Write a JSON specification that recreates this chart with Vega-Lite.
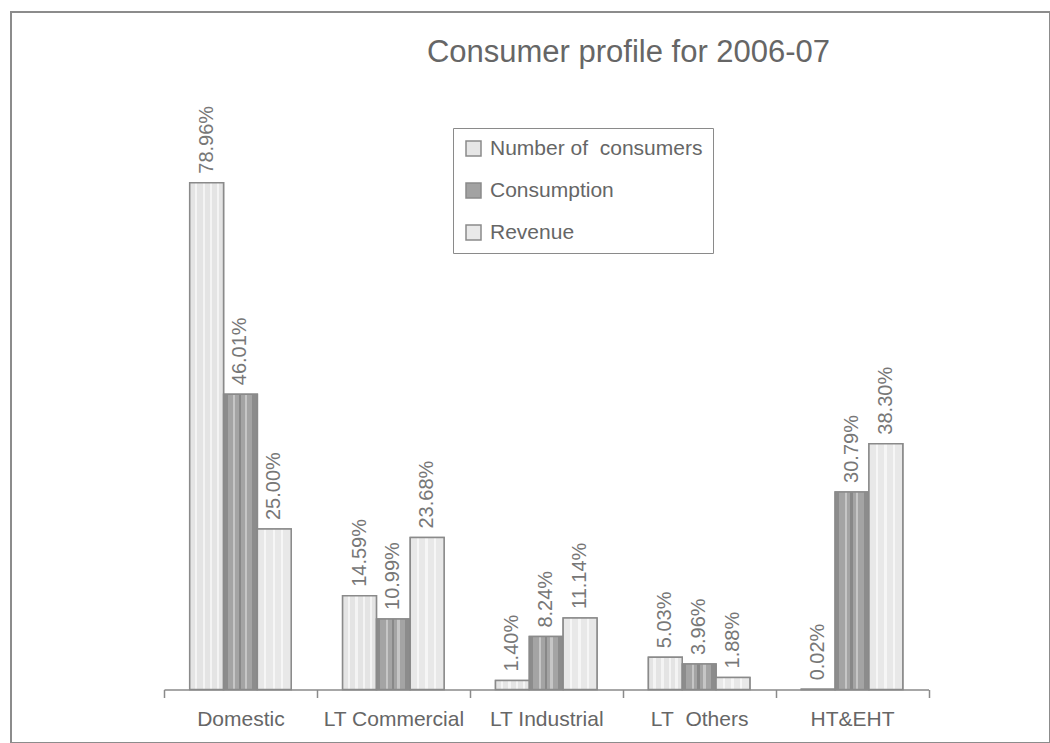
{
  "$schema": "https://vega.github.io/schema/vega-lite/v6.json",
  "width": 1039,
  "height": 731,
  "autosize": {"type": "none"},
  "padding": {"left": 11, "top": 12, "right": 0, "bottom": 0},
  "background": "white",
  "config": {
    "view": {"stroke": "#8c8c8c", "strokeWidth": 2},
    "font": "Liberation Sans",
    "axis": {"grid": false}
  },
  "title": {
    "text": "Consumer profile for 2006-07",
    "fontSize": 31,
    "font": "Liberation Sans",
    "fontWeight": "normal",
    "color": "#666666",
    "anchor": "middle",
    "frame": "group",
    "baseline": "alphabetic",
    "offset": 0,
    "dx": 98,
    "dy": 81
  },
  "data": {
    "values": [
      {"cat": "Domestic", "series": "Number of\u00a0 consumers", "v": 0.7896},
      {"cat": "Domestic", "series": "Consumption", "v": 0.4601},
      {"cat": "Domestic", "series": "Revenue", "v": 0.25},
      {"cat": "LT Commercial", "series": "Number of\u00a0 consumers", "v": 0.1459},
      {"cat": "LT Commercial", "series": "Consumption", "v": 0.1099},
      {"cat": "LT Commercial", "series": "Revenue", "v": 0.2368},
      {"cat": "LT Industrial", "series": "Number of\u00a0 consumers", "v": 0.014},
      {"cat": "LT Industrial", "series": "Consumption", "v": 0.0824},
      {"cat": "LT Industrial", "series": "Revenue", "v": 0.1114},
      {"cat": "LT\u00a0 Others", "series": "Number of\u00a0 consumers", "v": 0.0503},
      {"cat": "LT\u00a0 Others", "series": "Consumption", "v": 0.0396},
      {"cat": "LT\u00a0 Others", "series": "Revenue", "v": 0.0188},
      {"cat": "HT&EHT", "series": "Number of\u00a0 consumers", "v": 0.0002},
      {"cat": "HT&EHT", "series": "Consumption", "v": 0.3079},
      {"cat": "HT&EHT", "series": "Revenue", "v": 0.383}
    ]
  },
  "encoding": {
    "x": {
      "field": "cat",
      "type": "nominal",
      "sort": ["Domestic", "LT Commercial", "LT Industrial", "LT\u00a0 Others", "HT&EHT"],
      "scale": {"range": [153, 917.5], "paddingInner": 0, "paddingOuter": 0},
      "axis": {
        "title": null,
        "labelAngle": 0,
        "labelFontSize": 21,
        "labelColor": "#666666",
        "labelFont": "Liberation Sans",
        "domainColor": "#8a8a8a",
        "domainWidth": 1.5,
        "tickColor": "#8a8a8a",
        "tickWidth": 1.5,
        "tickSize": 8,
        "tickBand": "extent",
        "labelPadding": 11,
        "labelBaseline": "top",
        "offset": -53.5
      }
    },
    "xOffset": {
      "field": "series",
      "sort": ["Number of\u00a0 consumers", "Consumption", "Revenue"],
      "scale": {"paddingInner": 0, "paddingOuter": 0.76}
    },
    "y": {
      "field": "v",
      "type": "quantitative",
      "scale": {"domain": [0, 0.7896], "range": [677.5, 170.7], "nice": false},
      "axis": null
    }
  },
  "layer": [
    {
      "mark": {"type": "bar", "stroke": "#8a8a8a", "strokeWidth": 1.5},
      "encoding": {
        "color": {
          "field": "series",
          "type": "nominal",
          "scale": {
            "domain": ["Number of\u00a0 consumers", "Consumption", "Revenue"],
            "range": ["#e6e6e6", "#a2a2a2", "#e9e9e9"]
          },
          "legend": {
            "orient": "none",
            "legendX": 442,
            "legendY": 116,
            "title": null,
            "symbolType": "square",
            "symbolSize": 225,
            "symbolStrokeColor": "#8a8a8a",
            "symbolStrokeWidth": 1.5,
            "symbolOpacity": 1,
            "labelFontSize": 21,
            "labelFont": "Liberation Sans",
            "labelColor": "#666666",
            "labelOffset": 6,
            "labelLimit": 400,
            "strokeColor": "#8a8a8a",
            "padding": 10,
            "rowPadding": 20
          }
        }
      }
    },
    {
      "transform": [{"filter": "datum.series === 'Number of\u00a0 consumers'"}],
      "mark": {"type": "bar", "stroke": "#8a8a8a", "strokeWidth": 1.5,
        "fill": {"gradient": "linear", "x1": 0, "y1": 0, "x2": 1, "y2": 0, "stops": [
          {"offset": 0, "color": "#e4e4e4"}, {"offset": 0.15, "color": "#e4e4e4"},
          {"offset": 0.15, "color": "#f4f4f4"}, {"offset": 0.22, "color": "#f4f4f4"},
          {"offset": 0.22, "color": "#e4e4e4"}, {"offset": 0.38, "color": "#e4e4e4"},
          {"offset": 0.38, "color": "#f4f4f4"}, {"offset": 0.45, "color": "#f4f4f4"},
          {"offset": 0.45, "color": "#e4e4e4"}, {"offset": 0.6, "color": "#e4e4e4"},
          {"offset": 0.6, "color": "#f4f4f4"}, {"offset": 0.67, "color": "#f4f4f4"},
          {"offset": 0.67, "color": "#e4e4e4"}, {"offset": 0.8, "color": "#e4e4e4"},
          {"offset": 0.8, "color": "#f4f4f4"}, {"offset": 0.87, "color": "#f4f4f4"},
          {"offset": 0.87, "color": "#e4e4e4"}, {"offset": 1, "color": "#e4e4e4"}
        ]}},
      "encoding": {}
    },
    {
      "transform": [{"filter": "datum.series === 'Consumption'"}],
      "mark": {"type": "bar", "stroke": "#8a8a8a", "strokeWidth": 1.5,
        "fill": {"gradient": "linear", "x1": 0, "y1": 0, "x2": 1, "y2": 0, "stops": [
          {"offset": 0, "color": "#8c8c8c"}, {"offset": 0.12, "color": "#8c8c8c"},
          {"offset": 0.12, "color": "#a4a4a4"}, {"offset": 0.28, "color": "#a4a4a4"},
          {"offset": 0.28, "color": "#c6c6c6"}, {"offset": 0.35, "color": "#c6c6c6"},
          {"offset": 0.35, "color": "#a4a4a4"}, {"offset": 0.45, "color": "#a4a4a4"},
          {"offset": 0.45, "color": "#888888"}, {"offset": 0.53, "color": "#888888"},
          {"offset": 0.53, "color": "#a4a4a4"}, {"offset": 0.62, "color": "#a4a4a4"},
          {"offset": 0.62, "color": "#c6c6c6"}, {"offset": 0.69, "color": "#c6c6c6"},
          {"offset": 0.69, "color": "#a4a4a4"}, {"offset": 0.84, "color": "#a4a4a4"},
          {"offset": 0.84, "color": "#8c8c8c"}, {"offset": 1, "color": "#8c8c8c"}
        ]}},
      "encoding": {}
    },
    {
      "transform": [{"filter": "datum.series === 'Revenue'"}],
      "mark": {"type": "bar", "stroke": "#8a8a8a", "strokeWidth": 1.5,
        "fill": {"gradient": "linear", "x1": 0, "y1": 0, "x2": 1, "y2": 0, "stops": [
          {"offset": 0, "color": "#e8e8e8"}, {"offset": 0.2, "color": "#e8e8e8"},
          {"offset": 0.2, "color": "#f6f6f6"}, {"offset": 0.27, "color": "#f6f6f6"},
          {"offset": 0.27, "color": "#e8e8e8"}, {"offset": 0.45, "color": "#e8e8e8"},
          {"offset": 0.45, "color": "#f6f6f6"}, {"offset": 0.52, "color": "#f6f6f6"},
          {"offset": 0.52, "color": "#e8e8e8"}, {"offset": 0.7, "color": "#e8e8e8"},
          {"offset": 0.7, "color": "#f6f6f6"}, {"offset": 0.77, "color": "#f6f6f6"},
          {"offset": 0.77, "color": "#e8e8e8"}, {"offset": 1, "color": "#e8e8e8"}
        ]}},
      "encoding": {}
    },
    {
      "mark": {
        "type": "text",
        "angle": 270,
        "align": "left",
        "baseline": "middle",
        "dx": 9,
        "fontSize": 20,
        "font": "Liberation Sans",
        "color": "#777777"
      },
      "encoding": {
        "text": {"field": "v", "type": "quantitative", "format": ".2%"}
      }
    }
  ]
}
